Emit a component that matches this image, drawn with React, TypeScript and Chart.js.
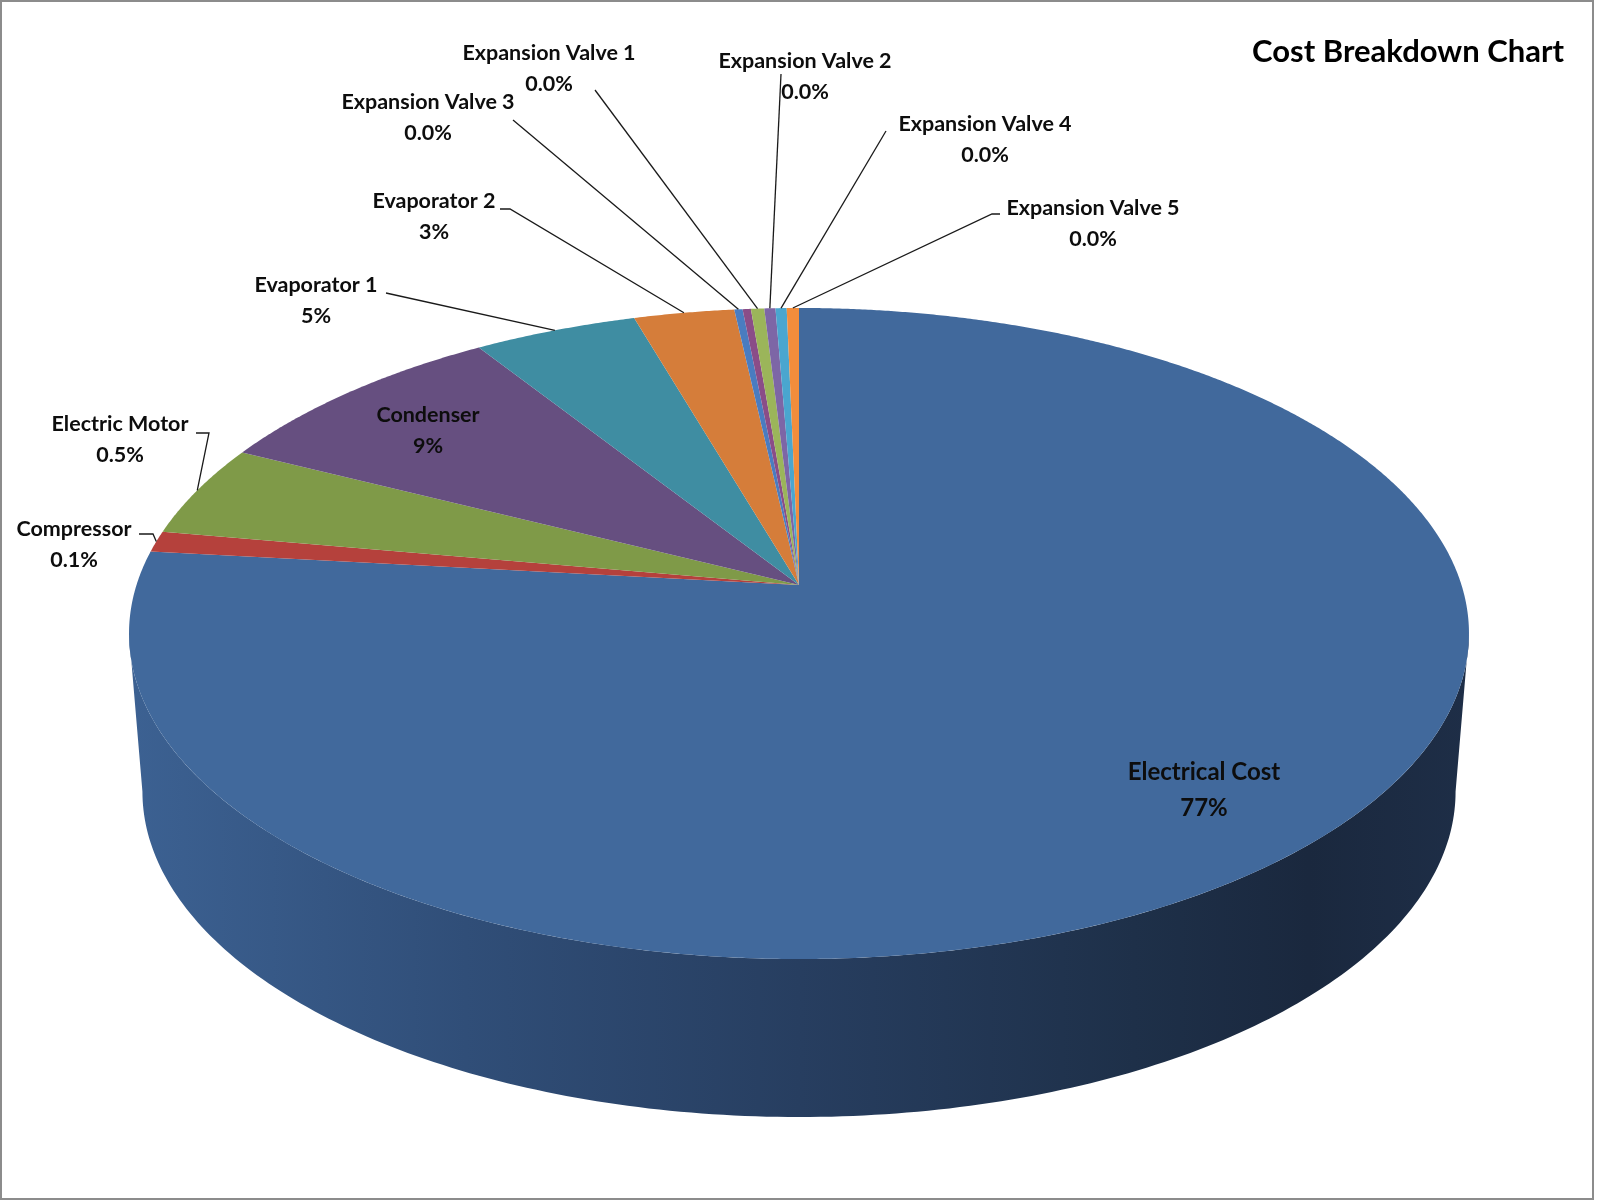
import { useEffect, useRef } from 'react';
import { Chart, registerables } from 'chart.js';

Chart.register(...registerables);

// slices, clockwise from 12 o'clock
const CATEGORIES = [
  'Electrical Cost', 'Compressor', 'Electric Motor', 'Condenser', 'Evaporator 1', 'Evaporator 2',
  'Expansion Valve 3', '', 'Expansion Valve 1', 'Expansion Valve 2', 'Expansion Valve 4', 'Expansion Valve 5',
];
const VALUES = [76.7, 1.05, 4.57, 8.53, 4.56, 2.8, 0.23, 0.23, 0.37, 0.31, 0.31, 0.34];
const PERCENT_LABELS = ['77%', '0.1%', '0.5%', '9%', '5%', '3%', '0.0%', '', '0.0%', '0.0%', '0.0%', '0.0%'];
const COLORS = [
  '#41699c', '#b5413c', '#7f9a48', '#664f80', '#3f8da2', '#d57d3a',
  '#4a7cc0', '#8a4d88', '#9bb55a', '#7d66a6', '#4aa6cf', '#f28d3c',
];

// label placement (centre of first text line) and leader line start, canvas px
const LABEL_POS = [
  [1204, 772], [74, 529], [120, 424], [428, 415], [316, 285], [434, 201],
  [428, 102], null, [549, 53], [805, 61], [985, 124], [1093, 208],
];
const LEADER_FROM = [
  null, [139, 534], [196, 433], null, [386, 293], [500, 209],
  [513, 120], null, [595, 90], [781, 74], [886, 131], [1000, 214],
];
const LEADER_STUB = [0, 14, 13, 0, 0, 10, 0, 0, 0, 0, 0, -8];

const FONT = 'Lato';

// perspective of the tilted disc
const CX = 799;
const CY = 585;
const K = 662.5;
const A = 318.3;
const B = 0.149;
const DEPTH = 158;
const BOTTOM_SCALE = 0.98;

function project(theta, r, bottom, s) {
  const u = r * Math.cos(theta);
  const v = r * Math.sin(theta);
  const den = 1 - B * v;
  const hs = bottom ? BOTTOM_SCALE : 1;
  return [
    (CX + (K * hs * u) / den) * s,
    (CY + (A * v) / den + (bottom ? DEPTH : 0)) * s,
  ];
}

const pie3d = {
  id: 'pie3d',
  beforeDraw(chart) {
    const { ctx, width, height } = chart;
    ctx.save();
    ctx.fillStyle = '#ffffff';
    ctx.fillRect(0, 0, width, height);
    ctx.strokeStyle = '#8c8c8c';
    ctx.lineWidth = 2;
    ctx.strokeRect(1, 1, width - 8, height - 2);
    ctx.restore();
  },
  beforeDatasetsDraw(chart) {
    const { ctx } = chart;
    const s = chart.width / 1600;
    const meta = chart.getDatasetMeta(0);

    ctx.save();
    // side wall (front half)
    const tR = Math.asin(B);
    const tL = Math.PI - Math.asin(B);
    const N = 200;
    ctx.beginPath();
    for (let k = 0; k <= N; k++) {
      const t = tR + ((tL - tR) * k) / N;
      const [x, y] = project(t, 1, false, s);
      if (k === 0) ctx.moveTo(x, y);
      else ctx.lineTo(x, y);
    }
    for (let k = N; k >= 0; k--) {
      const t = tR + ((tL - tR) * k) / N;
      const [x, y] = project(t, 1, true, s);
      ctx.lineTo(x, y);
    }
    ctx.closePath();
    const g = ctx.createLinearGradient(131 * s, 0, 1469 * s, 0);
    g.addColorStop(0, '#3c6192');
    g.addColorStop(0.25, '#304e78');
    g.addColorStop(0.5, '#273e60');
    g.addColorStop(0.75, '#1e3049');
    g.addColorStop(0.88, '#1a283e');
    g.addColorStop(1, '#1e2e47');
    ctx.fillStyle = g;
    ctx.fill();

    // top faces
    meta.data.forEach((arc) => {
      const { startAngle, endAngle } = arc.getProps(['startAngle', 'endAngle'], true);
      const steps = Math.max(2, Math.ceil((endAngle - startAngle) / 0.005));
      ctx.beginPath();
      const [ax, ay] = project(0, 0, false, s);
      ctx.moveTo(ax, ay);
      for (let k = 0; k <= steps; k++) {
        const t = startAngle + ((endAngle - startAngle) * k) / steps;
        const [x, y] = project(t, 1, false, s);
        ctx.lineTo(x, y);
      }
      ctx.closePath();
      ctx.fillStyle = arc.options.backgroundColor;
      ctx.fill();
    });
    ctx.restore();
    return false;
  },
  afterDraw(chart) {
    const { ctx } = chart;
    const s = chart.width / 1600;
    const meta = chart.getDatasetMeta(0);
    ctx.save();
    ctx.fillStyle = '#0d0d0d';
    ctx.strokeStyle = '#1a1a1a';
    ctx.lineWidth = 1.3 * s;
    ctx.textAlign = 'center';
    ctx.textBaseline = 'middle';

    meta.data.forEach((arc, i) => {
      const pos = LABEL_POS[i];
      if (!pos) return;
      const big = i === 0;
      const size = big ? 24 : 21.5;
      const gap = big ? 36 : 31;
      ctx.font = `bold ${size * s}px ${FONT}`;
      ctx.fillText(CATEGORIES[i], pos[0] * s, pos[1] * s);
      ctx.fillText(PERCENT_LABELS[i], pos[0] * s, (pos[1] + gap) * s);

      const from = LEADER_FROM[i];
      if (!from) return;
      const { startAngle, endAngle } = arc.getProps(['startAngle', 'endAngle'], true);
      const [ex, ey] = project((startAngle + endAngle) / 2, 1, false, s);
      ctx.beginPath();
      ctx.moveTo(from[0] * s, from[1] * s);
      ctx.lineTo((from[0] + LEADER_STUB[i]) * s, from[1] * s);
      ctx.lineTo(ex, ey);
      ctx.stroke();
    });
    ctx.restore();
  },
};

export default function App() {
  const canvasRef = useRef(null);
  const chartRef = useRef(null);

  useEffect(() => {
    document.body.style.margin = '0';
    if (chartRef.current) chartRef.current.destroy();

    chartRef.current = new Chart(canvasRef.current, {
      type: 'pie',
      data: {
        labels: CATEGORIES,
        datasets: [{
          data: VALUES,
          backgroundColor: COLORS,
          borderWidth: 0,
        }],
      },
      options: {
        responsive: false,
        animation: false,
        devicePixelRatio: 1,
        layout: { padding: { right: 36 } },
        plugins: {
          legend: { display: false },
          tooltip: { enabled: false },
          title: {
            display: true,
            text: 'Cost Breakdown Chart',
            align: 'end',
            color: '#000000',
            font: { family: FONT, size: 31, weight: 'bold', lineHeight: 1.2 },
            padding: { top: 33, bottom: 10 },
          },
        },
      },
      plugins: [pie3d],
    });

    return () => { if (chartRef.current) chartRef.current.destroy(); };
  }, []);

  return (
    <div style={{ width: 1600, height: 1200 }}>
      <canvas ref={canvasRef} width={1600} height={1200} style={{ width: 1600, height: 1200 }} />
    </div>
  );
}
